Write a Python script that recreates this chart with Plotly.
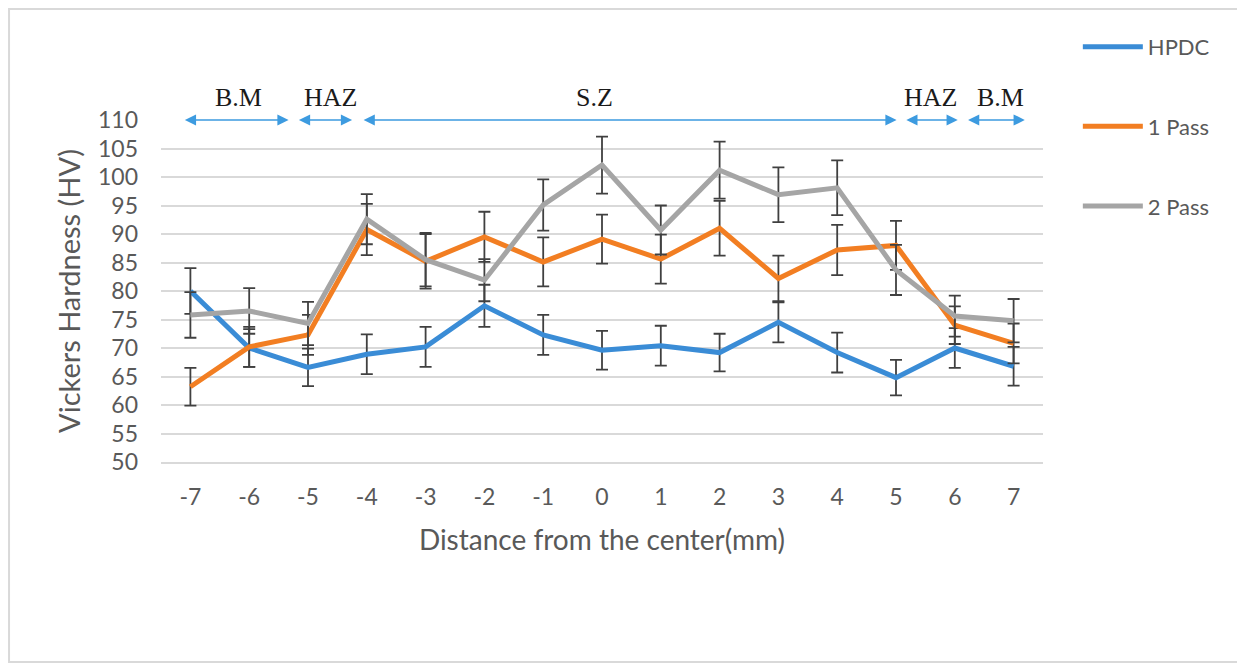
import plotly.graph_objects as go

# ---- data ----
distance = [-7, -6, -5, -4, -3, -2, -1, 0, 1, 2, 3, 4, 5, 6, 7]
tick_labels = ["-7", "-6", "-5", "-4", "-3", "-2", "-1", "0", "1", "2", "3", "4", "5", "6", "7"]
hpdc = [80, 70, 66.6, 68.9, 70.2, 77.4, 72.3, 69.6, 70.4, 69.2, 74.5, 69.2, 64.8, 70, 66.8]
hpdc_err = [4, 3.3, 3.3, 3.5, 3.5, 3.7, 3.5, 3.4, 3.5, 3.3, 3.5, 3.5, 3.1, 3.5, 3.4]
pass1 = [63.2, 70.2, 72.3, 90.8, 85.2, 89.5, 85.1, 89.1, 85.6, 91, 82.2, 87.2, 88, 74, 70.8]
pass1_err = [3.3, 3.5, 3.5, 4.5, 4.8, 4.4, 4.3, 4.3, 4.3, 4.8, 4.0, 4.4, 4.3, 3.3, 3.5]
pass2 = [75.8, 76.5, 74.3, 92.6, 85.5, 81.9, 95.1, 102.1, 90.7, 101.2, 96.9, 98.1, 83.7, 75.6, 74.8]
pass2_err = [4, 4, 3.8, 4.4, 4.7, 3.7, 4.5, 5, 4.3, 5, 4.8, 4.8, 4.4, 3.6, 3.8]

series_names = ["HPDC", "1 Pass", "2 Pass"]
series_colors = ["#3A8CD6", "#F27E22", "#A5A5A5"]

# zone annotations
zone_labels = ["B.M", "HAZ", "S.Z", "HAZ", "B.M"]
zone_starts = [-7.12, -5.18, -4.08, 5.15, 6.2]
zone_ends = [-5.33, -4.25, 5.01, 6.05, 7.19]
zone_label_x = [-6.18, -4.62, -0.12, 5.59, 6.78]
zone_y = 110
zone_label_y_paper = 1.067

FONT = "Lato"
TXT = "#595959"

fig = go.Figure()
for name, vals, errs, col in zip(series_names, [hpdc, pass1, pass2],
                                 [hpdc_err, pass1_err, pass2_err], series_colors):
    fig.add_trace(go.Scatter(
        x=distance, y=vals, name=name, mode="lines",
        line=dict(color=col, width=5),
        error_y=dict(type="data", array=errs, visible=True,
                     color="#404040", thickness=1.8, width=6),
        legendgroup=name,
    ))

annotations = []
for s, e in zip(zone_starts, zone_ends):
    annotations.append(dict(
        x=e, y=zone_y, ax=s, ay=zone_y, xref="x", yref="y", axref="x", ayref="y",
        text="", showarrow=True, arrowside="end+start",
        arrowhead=2, startarrowhead=2, arrowsize=1.4, startarrowsize=1.4,
        arrowwidth=1.6, arrowcolor="#3D9BE0", standoff=0, startstandoff=0,
    ))
for lab, lx in zip(zone_labels, zone_label_x):
    annotations.append(dict(
        x=lx, y=zone_label_y_paper, xref="x", yref="paper", text=lab, showarrow=False,
        font=dict(family="Liberation Serif", size=26, color="#1a1a1a"),
        xanchor="center", yanchor="middle",
    ))

fig.update_layout(
    width=1237, height=656,
    margin=dict(l=153, r=202, t=112, b=202),
    paper_bgcolor="white", plot_bgcolor="white",
    font=dict(family=FONT, color=TXT),
    showlegend=True,
    legend=dict(x=1.0395, y=1.275, xanchor="left", yanchor="top",
                font=dict(family=FONT, size=22, color=TXT),
                tracegroupgap=48, itemwidth=60, bgcolor="rgba(0,0,0,0)"),
    annotations=annotations,
    shapes=[dict(type="rect", xref="paper", yref="paper",
                 x0=-0.1723, x1=1.2256, y0=-0.585, y1=1.3246,
                 line=dict(color="#D9D9D9", width=2), layer="below")],
)
fig.update_xaxes(
    range=[-7.5, 7.5], tickvals=distance, ticktext=tick_labels,
    showgrid=False, zeroline=False, showline=True, linecolor="#D9D9D9", linewidth=2,
    tickfont=dict(family=FONT, size=23, color=TXT), ticks="", ticklabelstandoff=13,
    title=dict(text="Distance from the center(mm)", font=dict(family=FONT, size=28, color=TXT),
               standoff=22),
)
fig.update_yaxes(
    range=[50, 110], dtick=5, tick0=50,
    showgrid=True, gridcolor="#D9D9D9", gridwidth=2, zeroline=False, showline=False,
    tickfont=dict(family=FONT, size=23, color=TXT), ticks="", ticklabelstandoff=22,
    title=dict(text="Vickers Hardness (HV)", font=dict(family=FONT, size=29, color=TXT),
               standoff=8),
)
fig.write_html("out.html")
